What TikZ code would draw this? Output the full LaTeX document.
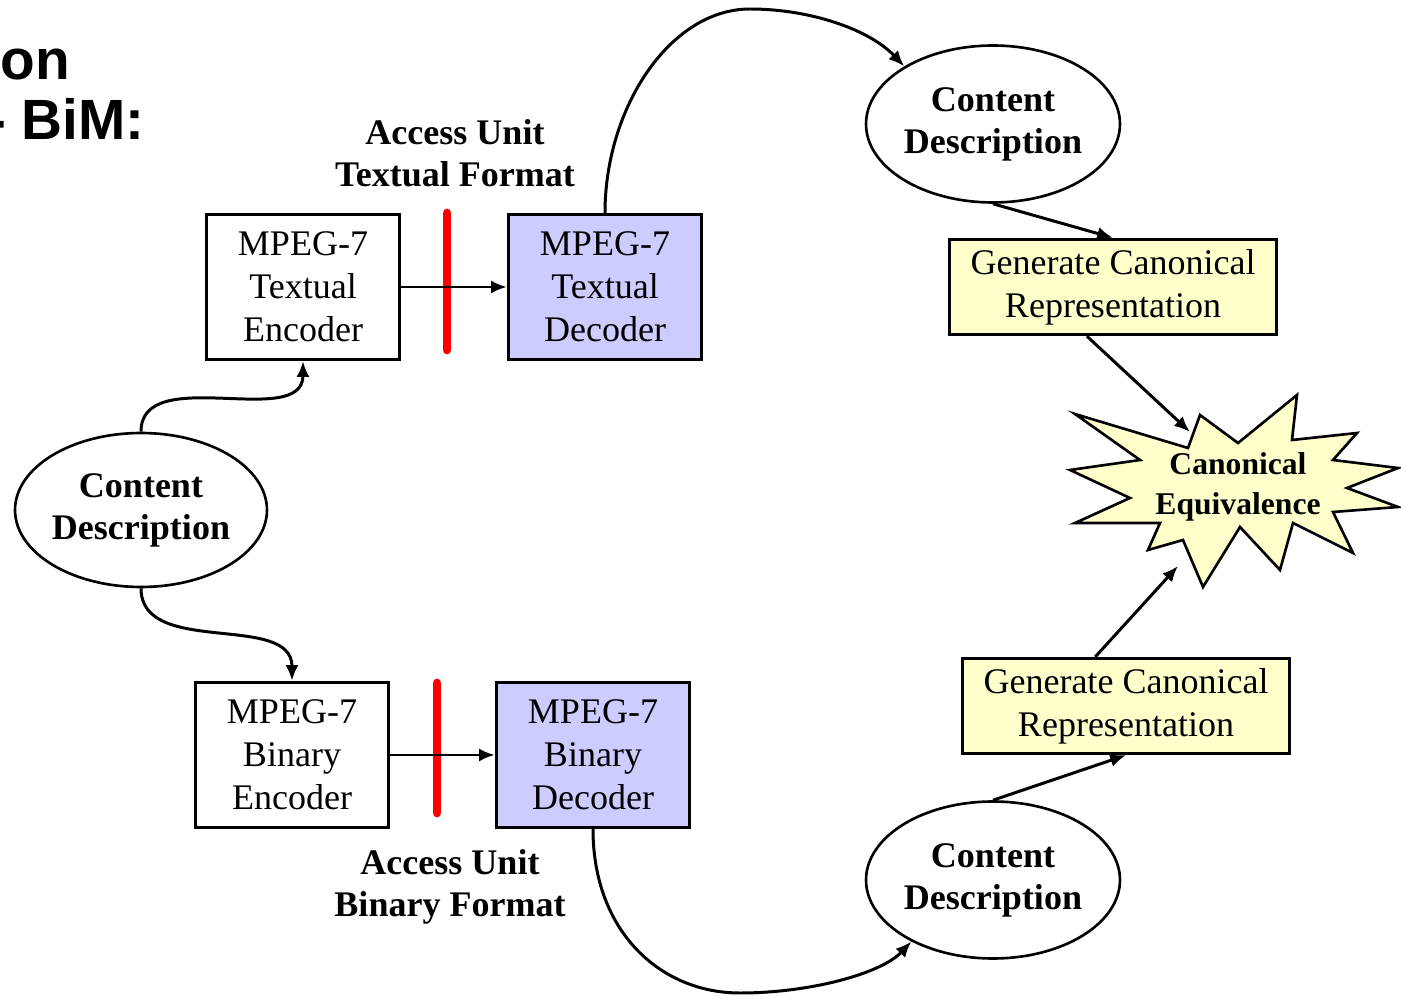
\documentclass[tikz,border=0pt]{standalone}
\usepackage{fontspec}
\setmainfont{Liberation Serif}
\newfontfamily\titlefont{Liberation Sans}
\usetikzlibrary{shapes.geometric}
\usetikzlibrary{arrows.meta}
\definecolor{lavanda}{HTML}{CCCCFF}
\definecolor{amarillo}{HTML}{FFFFCC}

\begin{document}
\begin{tikzpicture}[x=0.02cm, y=-0.02cm,
    every node/.style={font=\fontsize{20.5}{24.5}\selectfont, align=center},
    caja/.style={draw, line width=1.9pt, minimum width=3.86cm, minimum height=2.9cm, inner sep=0pt},
    desc/.style={draw, ellipse, line width=1.5pt, minimum width=5.08cm, minimum height=3.14cm, inner sep=0pt, font=\fontsize{20.5}{24}\selectfont\bfseries},
    gen/.style={draw, line width=1.9pt, fill=amarillo, minimum width=6.54cm, minimum height=1.9cm, inner sep=0pt},
    flecha/.style={-{Latex[length=9pt,width=7.5pt]}, line width=1.7pt},
    barra/.style={red, line width=5pt, line cap=round}]
              \clip (0,0) rectangle (1401,996);
              % Titulo
              \node[anchor=base west, inner sep=0pt, font=\titlefont\fontsize{32.3}{36}\selectfont\bfseries] (titulo1) at (0,80) {on};
              \node[anchor=base west, inner sep=0pt, font=\titlefont\fontsize{32.3}{36}\selectfont\bfseries] (titulo2) at (-13,140) {- BiM:};

              % Nodos
              \node[desc, minimum width=5.04cm, minimum height=3.08cm] (cdizq) at (141,510) {Content\\Description};
              \node[caja] (tenc) at (303,287) {MPEG-7\\Textual\\Encoder};
              \node[caja, fill=lavanda] (tdec) at (605,287) {MPEG-7\\Textual\\Decoder};
              \node[caja] (benc) at (292,755) {MPEG-7\\Binary\\Encoder};
              \node[caja, fill=lavanda] (bdec) at (593,755) {MPEG-7\\Binary\\Decoder};
              \node[font=\fontsize{20.5}{24}\selectfont\bfseries] (autext) at (455,153) {Access Unit\\Textual Format};
              \node[font=\fontsize{20.5}{24}\selectfont\bfseries] (aubin) at (450,887) {Access Unit\\Binary Format};
              \node[desc] (cdarr) at (993,124) {Content\\Description};
              \node[desc] (cdaba) at (993,880) {Content\\Description};
              \node[gen] (genarr) at (1113,287) {Generate Canonical\\Representation};
              \node[gen] (genaba) at (1126,706) {Generate Canonical\\Representation};

              % Estrella
              \draw[line width=1.5pt, fill=amarillo, line join=miter]
                (1075,414) -- (1188,448) -- (1200,415) -- (1238,443) -- (1297,395) -- (1292,440)
                -- (1357,433) -- (1333,460) -- (1398,468) -- (1347,488) -- (1398,507) -- (1333,512)
                -- (1353,553) -- (1293,523) -- (1280,570) -- (1240,527) -- (1203,587) -- (1183,540)
                -- (1148,550) -- (1160,523) -- (1075,523) -- (1130,498) -- (1070,470) -- (1140,460) -- cycle;
              \node[font=\fontsize{18}{22.5}\selectfont\bfseries] (equiv) at (1238,487) {Canonical\\Equivalence};
              \coordinate (eqarr) at (1190,432);
              \coordinate (eqaba) at (1178,566);

              % Barras
              \draw[barra] (447,213) -- (447,350);
              \draw[barra] (437,683) -- (437,813);

              % Aristas
              \draw[flecha] (tenc) -- (tdec);
              \draw[flecha] (benc) -- (bdec);
              \draw[flecha] (cdizq.north) to[out=90, in=-90] (tenc.south);
              \draw[flecha] (cdizq.south) to[out=-90, in=90] (benc.north);
              \draw[flecha] (tdec.north) .. controls +(0,-105) and +(-80,0) .. (750,9)
                .. controls +(60,0) and +(-35,-37) .. (cdarr.147);
              \draw[flecha] (bdec.south) .. controls +(0,102) and +(-80,0) .. (740,993)
                .. controls +(70,0) and +(-30,32) .. (cdaba.217);
              \draw[flecha] (cdarr.south) -- (genarr.north);
              \draw[flecha] (cdaba.north) -- (genaba.south);
              \draw[flecha] (genarr.242) -- (eqarr);
              \draw[flecha] (genaba.122) -- (eqaba);
            \end{tikzpicture}
\end{document}
